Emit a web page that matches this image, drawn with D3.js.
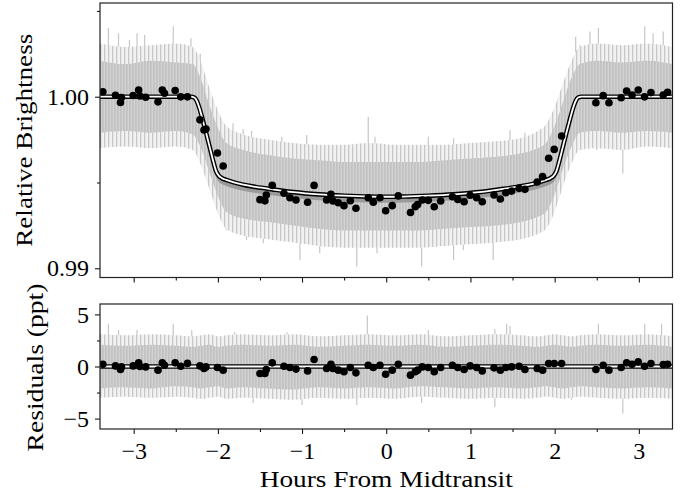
<!DOCTYPE html>
<html><head><meta charset="utf-8">
<script src="https://cdn.jsdelivr.net/npm/d3@7"></script>
<style>
body{margin:0;background:#fff}
svg{display:block}
</style>
</head><body>
<svg id="chart" width="689" height="495"></svg>
<script>
// ---------------- data ----------------
const binHours = [-3.366,-3.216,-3.157,-3.145,-3.006,-2.941,-2.925,-2.857,-2.711,-2.660,-2.634,-2.507,-2.441,-2.361,
  -2.213,-2.165,-2.141,-2.005,-1.937,-1.500,-1.441,-1.425,-1.354,-1.215,-1.144,-1.072,-0.934,-0.857,-0.708,-0.657,
  -0.633,-0.570,-0.502,-0.427,-0.360,-0.214,-0.154,-0.075,-0.007,0.071,0.143,0.288,0.345,0.373,0.428,0.499,0.570,
  0.646,0.786,0.850,0.925,0.996,1.074,1.140,1.280,1.355,1.420,1.489,1.578,1.647,1.793,1.857,1.929,1.995,2.083,
  2.490,2.577,2.645,2.790,2.855,2.920,2.993,3.068,3.144,3.290,3.342];
const binFlux = [1.00029,1.00008,0.99966,0.99995,1.00007,1.00039,1.00004,0.99997,0.99970,1.00039,1.00020,1.00036,0.99999,0.99999,
  0.99865,0.99806,0.99812,0.99672,0.99596,0.99400,0.99393,0.99427,0.99483,0.99437,0.99411,0.99398,0.99385,0.99483,0.99398,0.99431,
  0.99392,0.99382,0.99365,0.99394,0.99350,0.99411,0.99385,0.99411,0.99335,0.99365,0.99422,0.99325,0.99359,0.99372,0.99398,0.99396,0.99359,
  0.99392,0.99417,0.99401,0.99388,0.99426,0.99411,0.99388,0.99427,0.99404,0.99440,0.99450,0.99466,0.99460,0.99503,0.99534,0.99641,0.99693,0.99771,
  0.99965,1.00006,0.99965,0.99994,1.00033,1.00010,1.00039,0.99999,1.00024,1.00010,1.00026];
const binResid = [0.22,0.06,-0.29,-0.04,0.06,0.35,0.00,-0.04,-0.35,0.35,0.12,0.35,0.03,0.30,
  0.06,-0.19,-0.04,-0.10,-0.35,-0.67,-0.67,-0.29,0.35,0.03,-0.10,-0.25,-0.42,0.67,-0.19,0.22,
  -0.19,-0.35,-0.51,-0.10,-0.61,0.12,-0.10,0.12,-0.74,-0.35,0.22,-0.83,-0.51,-0.35,-0.04,-0.10,-0.51,
  -0.10,0.12,-0.10,-0.29,0.06,-0.10,-0.42,-0.13,-0.35,-0.10,-0.04,0.03,-0.29,-0.19,-0.35,0.29,0.29,0.29,
  -0.29,0.12,-0.35,-0.10,0.35,0.22,0.44,0.03,0.29,0.19,0.22];

const modelHours = [-3.4,-2.32,-2.28,-2.25,-2.22,-2.18,-2.14,-2.10,-2.06,-2.02,-1.99,-1.95,-1.90,-1.82,-1.70,-1.55,-1.35,-1.10,-0.80,-0.50,-0.20,
  0.00,0.20,0.50,0.80,1.10,1.35,1.55,1.70,1.82,1.90,1.95,1.99,2.02,2.06,2.10,2.14,2.18,2.22,2.25,2.28,2.32,3.4];
const modelFlux = [1.0,1.0,0.99995,0.99975,0.99935,0.99865,0.99790,0.99712,0.99633,0.99565,0.99540,0.99525,0.99515,0.99502,0.99487,0.99474,0.99460,0.99444,0.99431,0.99423,0.99418,
  0.99417,0.99418,0.99423,0.99431,0.99444,0.99460,0.99474,0.99487,0.99502,0.99515,0.99525,0.99540,0.99565,0.99633,0.99712,0.99790,0.99865,0.99935,0.99975,0.99995,1.0,1.0];
const modelBandLow = [1.0,1.0,0.99990,0.99960,0.99915,0.99840,0.99760,0.99680,0.99600,0.99530,0.99505,0.99490,0.99480,0.99467,0.99452,0.99439,0.99425,0.99409,0.99396,0.99388,0.99383,
  0.99382,0.99383,0.99388,0.99396,0.99409,0.99425,0.99439,0.99452,0.99467,0.99480,0.99490,0.99505,0.99530,0.99600,0.99680,0.99760,0.99840,0.99915,0.99960,0.99990,1.0,1.0];
const residLineHours = [-3.4, 3.4];
const residLineVals = [0, 0];

// envelope of the unbinned (grey) measurements
const rawHours = [-3.4,-3.1,-2.8,-2.5,-2.3,-2.2,-2.1,-2.0,-1.9,-1.7,-1.4,-1.1,-0.8,-0.5,-0.2,0.1,0.4,0.7,1.0,1.3,1.6,1.8,1.9,2.0,2.1,2.2,2.3,2.5,2.8,3.1,3.4];
const rawCoreHi = [1.0021,1.0019,1.0021,1.0020,1.0019,1.0010,0.9995,0.9982,0.9973,0.9969,0.9966,0.9964,0.9963,0.9962,0.9962,0.9962,0.9962,0.9963,0.9964,0.9965,0.9967,0.9970,0.9973,0.9983,0.9997,1.0011,1.0019,1.0021,1.0020,1.0021,1.0019];
const rawCoreLo = [0.9979,0.9980,0.9979,0.9980,0.9978,0.9970,0.9956,0.9942,0.9933,0.9929,0.9927,0.9925,0.9923,0.9922,0.9922,0.9922,0.9922,0.9923,0.9924,0.9925,0.9927,0.9930,0.9933,0.9943,0.9958,0.9971,0.9979,0.9980,0.9979,0.9980,0.9979];
const rawOuterHi = [1.0031,1.0029,1.0030,1.0031,1.0029,1.0020,1.0005,0.9992,0.9983,0.9978,0.9975,0.9973,0.9972,0.9972,0.9973,0.9972,0.9972,0.9972,0.9973,0.9974,0.9976,0.9980,0.9984,0.9994,1.0008,1.0021,1.0029,1.0031,1.0030,1.0031,1.0029];
const rawOuterLo = [0.9970,0.9971,0.9970,0.9971,0.9969,0.9960,0.9946,0.9932,0.9923,0.9919,0.9917,0.9915,0.9913,0.9912,0.9912,0.9912,0.9912,0.9913,0.9914,0.9915,0.9917,0.9920,0.9923,0.9933,0.9948,0.9961,0.9969,0.9970,0.9969,0.9971,0.9970];
const resCoreHi = [2.1,2.0,2.1,2.0,1.9,2.0,2.1,1.9,2.0,2.1,2.0,2.1,1.9,2.0,2.1,2.0,2.1,1.9,2.0,2.1,2.0,1.9,2.0,2.1,2.0,1.9,2.0,2.1,2.0,2.1,1.9];
const resCoreLo = [-2.1,-2.0,-2.1,-1.9,-2.0,-2.1,-2.0,-1.9,-2.1,-2.0,-2.1,-2.2,-2.0,-2.1,-2.0,-2.1,-1.9,-2.0,-2.1,-2.0,-2.1,-2.0,-1.9,-2.0,-2.1,-2.0,-1.9,-2.0,-2.1,-2.0,-2.1];
const resOuterHi = [3.1,3.0,3.1,3.0,2.9,3.0,3.1,2.9,3.0,3.1,3.0,3.1,2.9,3.0,3.1,3.0,3.1,2.9,3.0,3.1,3.0,2.9,3.0,3.1,3.0,2.9,3.0,3.1,3.0,3.1,2.9];
const resOuterLo = [-3.0,-2.9,-3.0,-2.9,-3.0,-3.1,-3.0,-2.9,-3.1,-3.0,-3.1,-3.2,-3.0,-3.1,-3.0,-3.1,-2.9,-3.0,-3.1,-3.0,-3.1,-3.0,-2.9,-3.0,-3.1,-3.0,-2.9,-3.0,-3.1,-3.0,-3.1];
// individual long error bars [hours, low, high]
const rawSpikes = [[-3.30,1.0005,1.0040],[-3.18,1.0008,1.0037],[-3.05,1.0006,1.0033],[-2.96,1.0010,1.0037],[-2.87,1.0005,1.0036],
  [-2.53,1.0008,1.0041],[-2.32,1.0006,1.0034],[-2.21,0.9995,1.0025],[-1.82,0.9960,0.99845],[-1.70,0.9958,0.9981],[-1.60,0.9955,0.9980],
  [-1.24,0.9955,0.99767],[-0.945,0.9953,0.99777],[-0.214,0.9955,0.99883],[-0.134,0.9953,0.99767],[0.50,0.9953,0.99767],[0.80,0.9954,0.99758],
  [0.994,0.9955,0.99689],[1.23,0.9955,0.99728],[1.47,0.9957,0.99806],[1.647,0.9958,0.9979],[2.25,1.0005,1.0035],[2.30,0.9995,1.0030],
  [2.42,1.0008,1.0038],[2.52,1.0008,1.0040],[3.07,1.0008,1.0041],[3.17,1.0006,1.0037],[3.29,1.0007,1.0038],
  [-3.32,0.9971,0.9990],[-2.85,0.9973,0.9990],[-2.73,0.9971,0.9990],[-2.53,0.9974,0.9990],[-1.90,0.99223,0.9942],[-1.66,0.99165,0.9938],
  [-1.46,0.99146,0.9935],[-1.025,0.99048,0.9933],[-0.79,0.99087,0.9933],[-0.35,0.9901,0.9932],[-0.11,0.99087,0.9932],[0.42,0.9901,0.9932],
  [0.80,0.99048,0.9933],[0.915,0.99107,0.9933],[1.27,0.99048,0.9934],[1.67,0.99204,0.9936],[1.905,0.99359,0.9942],[2.50,0.99689,0.9990],
  [2.81,0.99553,0.9990],[3.37,0.9970,0.9990]];
const resSpikes = [[-3.30,0.5,4.1],[-3.18,0.5,3.5],[-2.96,0.5,3.5],[-2.53,0.5,4.1],[-2.31,0.5,3.5],[-1.80,0.5,3.3],[-1.18,0.5,3.3],
  [-0.225,0.5,4.9],[0.50,0.5,3.5],[1.29,0.5,3.6],[1.43,0.5,4.1],[1.47,0.5,3.9],[2.52,0.5,4.1],[3.07,0.5,4.1],[3.27,0.5,4.1],
  [-3.32,-2.9,-0.5],[-2.53,-2.9,-0.5],[-1.90,-3.1,-0.5],[-1.58,-3.5,-0.5],[-1.0,-3.7,-0.5],[-0.35,-3.7,-0.5],[0.42,-3.5,-0.5],
  [1.29,-3.9,-0.5],[2.20,-3.2,-0.5],[2.81,-4.5,-0.5]];

const xTicks = [-3,-2,-1,0,1,2,3];
const xMinorTicks = [-2.5,-1.5,-0.5,0.5,1.5,2.5];
const fluxTicks = [0.99, 1.00];
const fluxMinorTicks = [0.995, 1.005];
const residTicks = [-5, 0, 5];
const residMinorTicks = [-2.5, 2.5];
const xLabel = "Hours From Midtransit";
const fluxLabel = "Relative Brightness";
const residLabel = "Residuals (ppt)";

// ---------------- drawing ----------------
(function () {
const svg = d3.select("#chart");
const FONT = '"Liberation Serif", "Times New Roman", monospace';
const L = 100, R = 672.5;
const pTop = {t: 3, b: 277.5}, pBot = {t: 304, b: 429};

const x = d3.scaleLinear().domain([-3.4, 3.4]).range([L, R]);
const yF = d3.scaleLinear().domain([0.989464, 1.005460]).range([pTop.b, pTop.t]);
const yR = d3.scaleLinear().domain([-6, 6]).range([pBot.b, pBot.t]);

const defs = svg.append("defs");
defs.append("clipPath").attr("id","clipTop").append("rect")
  .attr("x",L).attr("y",pTop.t).attr("width",R-L).attr("height",pTop.b-pTop.t);
defs.append("clipPath").attr("id","clipBot").append("rect")
  .attr("x",L).attr("y",pBot.t).attr("width",R-L).attr("height",pBot.b-pBot.t);
const pat = defs.append("pattern").attr("id","sparse").attr("patternUnits","userSpaceOnUse")
  .attr("width",4).attr("height",9);
pat.append("rect").attr("width",4).attr("height",9).attr("fill","#f2f2f2");
pat.append("rect").attr("x",0).attr("width",1.3).attr("height",9).attr("fill","#c8c8c8");
const pat2 = defs.append("pattern").attr("id","dense").attr("patternUnits","userSpaceOnUse")
  .attr("width",3).attr("height",9);
pat2.append("rect").attr("width",3).attr("height",9).attr("fill","#d2d2d2");
pat2.append("rect").attr("x",0).attr("width",1.7).attr("height",9).attr("fill","#c2c2c2");

function panel(clipId, yScale, coreHi, coreLo, outerHi, outerLo, spikes, lineH, lineV, bandLow, dotsY) {
  const g = svg.append("g").attr("clip-path", `url(#${clipId})`);
  const idx = d3.range(rawHours.length);
  g.selectAll("line.spk").data(spikes).join("line").attr("class","spk")
    .attr("x1",d=>x(d[0])).attr("x2",d=>x(d[0]))
    .attr("y1",d=>yScale(d[1])).attr("y2",d=>yScale(d[2]))
    .attr("stroke","#c6c6c6").attr("stroke-width",1.2);
  g.append("path").attr("fill","url(#sparse)")
    .attr("d", d3.area().x(i=>x(rawHours[i])).y0(i=>yScale(outerLo[i])).y1(i=>yScale(outerHi[i])).curve(d3.curveMonotoneX)(idx));
  g.append("path").attr("fill","url(#dense)")
    .attr("d", d3.area().x(i=>x(rawHours[i])).y0(i=>yScale(coreLo[i])).y1(i=>yScale(coreHi[i])).curve(d3.curveMonotoneX)(idx));
  const mi = d3.range(lineH.length);
  if (bandLow) {
    g.append("path").attr("fill","#9a9a9a")
      .attr("d", d3.area().x(i=>x(lineH[i])).y0(i=>yScale(bandLow[i])).y1(i=>yScale(lineV[i])).curve(d3.curveMonotoneX)(mi));
  }
  const ln = d3.line().x(i=>x(lineH[i])).y(i=>yScale(lineV[i])).curve(d3.curveMonotoneX);
  g.append("path").attr("d", ln(mi)).attr("fill","none").attr("stroke","#000").attr("stroke-width",4.6);
  g.append("path").attr("d", ln(mi)).attr("fill","none").attr("stroke","#fff").attr("stroke-width",1.8);
  g.selectAll("circle").data(d3.range(binHours.length)).join("circle")
    .attr("cx", i=>x(binHours[i])).attr("cy", i=>yScale(dotsY[i])).attr("r",3.8).attr("fill","#000");
}

panel("clipTop", yF, rawCoreHi, rawCoreLo, rawOuterHi, rawOuterLo, rawSpikes, modelHours, modelFlux, modelBandLow, binFlux);
panel("clipBot", yR, resCoreHi, resCoreLo, resOuterHi, resOuterLo, resSpikes, residLineHours, residLineVals, null, binResid);

const fmtMinus = d => (d < 0 ? "\u2212" + Math.abs(d) : String(d));

function styleAxis(g) {
  g.select(".domain").remove();
  g.attr("font-family", null).attr("font-size", null);
  g.selectAll("text").style("font-family", FONT).style("font-size", "24px").attr("fill","#000");
  g.selectAll("line").attr("stroke","#000").attr("stroke-width",1);
}

svg.append("g").attr("transform",`translate(0,${pTop.b})`)
  .call(d3.axisBottom(x).tickValues(xTicks).tickSize(5).tickFormat("")).call(styleAxis);
svg.append("g").attr("transform",`translate(0,${pTop.b})`)
  .call(d3.axisBottom(x).tickValues(xMinorTicks).tickSize(3).tickFormat("")).call(styleAxis);
svg.append("g").attr("transform",`translate(0,${pBot.b})`)
  .call(d3.axisBottom(x).tickValues(xTicks).tickSize(5).tickPadding(8).tickFormat(fmtMinus)).call(styleAxis);
svg.append("g").attr("transform",`translate(0,${pBot.b})`)
  .call(d3.axisBottom(x).tickValues(xMinorTicks).tickSize(3).tickFormat("")).call(styleAxis);

svg.append("g").attr("transform",`translate(${L},0)`)
  .call(d3.axisLeft(yF).tickValues(fluxTicks).tickSize(5).tickPadding(6).tickFormat(d3.format(".2f"))).call(styleAxis);
svg.append("g").attr("transform",`translate(${L},0)`)
  .call(d3.axisLeft(yF).tickValues(fluxMinorTicks).tickSize(3).tickFormat("")).call(styleAxis);
svg.append("g").attr("transform",`translate(${L},0)`)
  .call(d3.axisLeft(yR).tickValues(residTicks).tickSize(5).tickPadding(6).tickFormat(fmtMinus)).call(styleAxis);
svg.append("g").attr("transform",`translate(${L},0)`)
  .call(d3.axisLeft(yR).tickValues(residMinorTicks).tickSize(3).tickFormat("")).call(styleAxis);

[pTop, pBot].forEach(p => {
  svg.append("rect").attr("x",L).attr("y",p.t).attr("width",R-L).attr("height",p.b-p.t)
    .attr("fill","none").attr("stroke","#222").attr("stroke-width",1.2);
});

function label(txt, tr, len) {
  svg.append("text").text(txt).attr("transform", tr).attr("text-anchor","middle")
    .style("font-family", FONT).style("font-size","23.5px").attr("fill","#000")
    .attr("textLength", len).attr("lengthAdjust","spacingAndGlyphs");
}
label(xLabel, `translate(${(L+R)/2},487)`, 253);
label(fluxLabel, `translate(32,${(pTop.t+pTop.b)/2}) rotate(-90)`, 213);
label(residLabel, `translate(42.5,${(pBot.t+pBot.b)/2+1}) rotate(-90)`, 168);
})();
</script>
</body></html>
